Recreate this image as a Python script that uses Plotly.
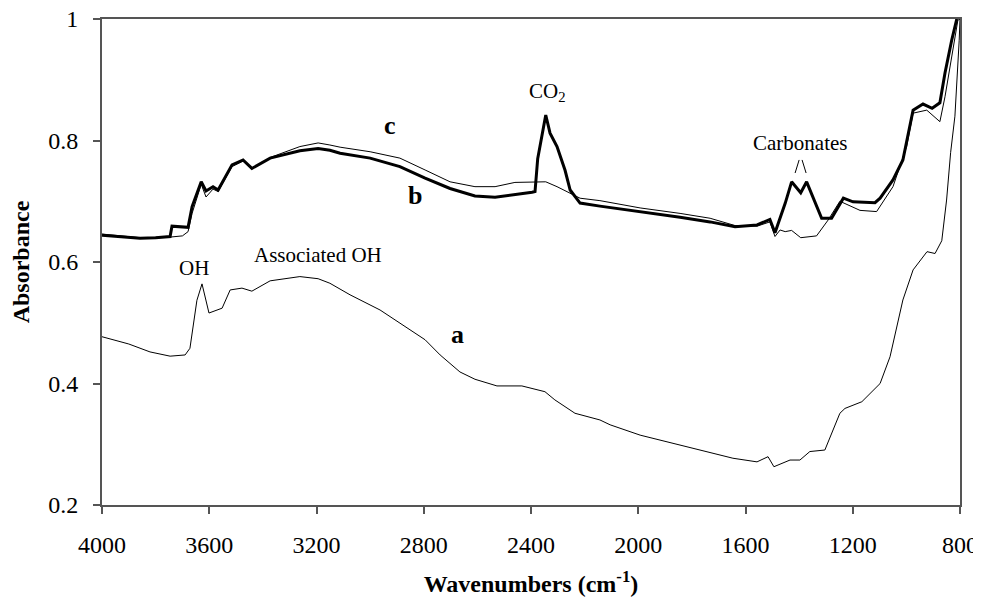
import plotly.graph_objects as go

# ---- data ----
wn_a = [4000, 3900, 3821, 3746, 3690, 3672, 3646, 3627, 3601, 3552, 3522, 3478, 3441, 3373,
        3262, 3194, 3150, 3075, 2963, 2889, 2795, 2739, 2665, 2609, 2527, 2434, 2348, 2311,
        2236, 2143, 2105, 1993, 1919, 1770, 1647, 1557, 1516, 1494, 1434, 1397, 1360, 1304,
        1248, 1229, 1166, 1098, 1061, 1013, 975, 923, 893, 868, 850, 835, 819, 803, 800]
abs_a = [0.477, 0.465, 0.452, 0.445, 0.447, 0.458, 0.537, 0.564, 0.516, 0.524, 0.554, 0.557, 0.552, 0.569,
         0.576, 0.5725, 0.565, 0.546, 0.521, 0.499, 0.472, 0.447, 0.419, 0.407, 0.396, 0.396, 0.3865, 0.373,
         0.351, 0.340, 0.332, 0.315, 0.307, 0.2905, 0.277, 0.271, 0.2795, 0.263, 0.274, 0.274, 0.288, 0.2905,
         0.351, 0.359, 0.370, 0.400, 0.444, 0.5375, 0.587, 0.617, 0.614, 0.635, 0.702, 0.78, 0.84, 0.965, 1.0]

wn_b = [4000, 3900, 3858, 3800, 3746, 3739, 3679, 3664, 3630, 3612, 3586, 3567, 3515, 3474, 3441,
        3373, 3262, 3194, 3150, 3112, 3000, 2889, 2795, 2702, 2609, 2534, 2460, 2396, 2385, 2375,
        2345, 2329, 2303, 2273, 2254, 2217, 2143, 1993, 1844, 1732, 1639, 1557, 1509, 1490, 1452,
        1428, 1394, 1372, 1316, 1279, 1235, 1199, 1117, 1098, 1050, 1013, 994, 975, 938, 904, 875,
        856, 831, 812]
abs_b = [0.644, 0.641, 0.639, 0.640, 0.642, 0.659, 0.657, 0.691, 0.732, 0.717, 0.724, 0.7185, 0.760, 0.768, 0.754,
         0.771, 0.783, 0.787, 0.784, 0.779, 0.771, 0.757, 0.738, 0.721, 0.7087, 0.7065, 0.7103, 0.7148, 0.716, 0.770,
         0.842, 0.812, 0.790, 0.751, 0.7185, 0.697, 0.692, 0.683, 0.6736, 0.666, 0.658, 0.661, 0.670, 0.648, 0.6966,
         0.732, 0.714, 0.732, 0.672, 0.672, 0.705, 0.699, 0.6976, 0.705, 0.735, 0.768, 0.812, 0.850, 0.860, 0.853, 0.862,
         0.911, 0.965, 1.0]

wn_c = [4000, 3858, 3746, 3700, 3679, 3664, 3630, 3612, 3586, 3567, 3515, 3474, 3441, 3373, 3262,
        3194, 3150, 3112, 3000, 2889, 2795, 2702, 2609, 2534, 2460, 2396, 2345, 2303, 2254, 2217,
        2143, 1993, 1844, 1732, 1639, 1557, 1509, 1490, 1471, 1452, 1428, 1394, 1335, 1292, 1248,
        1173, 1111, 1050, 999, 975, 924, 875, 856, 826, 808, 800]
abs_c = [0.646, 0.640, 0.641, 0.643, 0.650, 0.680, 0.728, 0.707, 0.720, 0.716, 0.757, 0.766, 0.753, 0.772, 0.790,
         0.796, 0.7926, 0.789, 0.7815, 0.771, 0.7515, 0.732, 0.724, 0.724, 0.731, 0.732, 0.732, 0.724, 0.713, 0.705,
         0.701, 0.689, 0.680, 0.672, 0.660, 0.659, 0.666, 0.642, 0.6527, 0.650, 0.652, 0.640, 0.643, 0.669, 0.700,
         0.685, 0.683, 0.724, 0.790, 0.845, 0.850, 0.831, 0.872, 0.949, 0.998, 1.0]

x_ticks = [4000, 3600, 3200, 2800, 2400, 2000, 1600, 1200, 800]
x_tick_labels = ["4000", "3600", "3200", "2800", "2400", "2000", "1600", "1200", "800"]
y_ticks = [0.2, 0.4, 0.6, 0.8, 1.0]
y_tick_labels = ["0.2", "0.4", "0.6", "0.8", "1"]

FONT = "Liberation Serif"

fig = go.Figure()
fig.add_trace(go.Scatter(x=wn_a, y=abs_a, mode="lines", line=dict(color="black", width=1), name="a"))
fig.add_trace(go.Scatter(x=wn_c, y=abs_c, mode="lines", line=dict(color="black", width=1), name="c"))
fig.add_trace(go.Scatter(x=wn_b, y=abs_b, mode="lines", line=dict(color="black", width=3), name="b"))

ann_font = dict(family=FONT, size=21, color="black")
lab_font = dict(family=FONT, size=26, color="black")
annots = [
    dict(x=2926, y=0.8255, text="<b>c</b>", font=lab_font),
    dict(x=2833, y=0.710, text="<b>b</b>", font=lab_font),
    dict(x=2676, y=0.480, text="<b>a</b>", font=lab_font),
    dict(x=2340, y=0.880, text="CO<sub>2</sub>", font=ann_font),
    dict(x=1397, y=0.796, text="Carbonates", font=ann_font),
    dict(x=3194, y=0.6115, text="Associated OH", font=ann_font),
    dict(x=3657, y=0.590, text="OH", font=ann_font),
]
for a in annots:
    a.update(xref="x", yref="y", showarrow=False, xanchor="center", yanchor="middle")
fig.update_layout(annotations=annots)

# small "/\" pointer under Carbonates
fig.add_shape(type="line", xref="x", yref="y", x0=1415, y0=0.7465, x1=1400, y1=0.768,
              line=dict(color="black", width=1))
fig.add_shape(type="line", xref="x", yref="y", x0=1389, y0=0.768, x1=1374, y1=0.7465,
              line=dict(color="black", width=1))

axis_common = dict(showline=True, linecolor="#555555", linewidth=2, mirror=True,
                   ticks="outside", tickcolor="#555555", tickwidth=1.5, ticklen=7,
                   showgrid=False, zeroline=False, automargin=False,
                   ticklabeloverflow="allow",
                   tickfont=dict(family=FONT, size=24, color="black"))

fig.update_xaxes(range=[4000, 800], tickvals=x_ticks, ticktext=x_tick_labels,
                 title=dict(text="<b>Wavenumbers (cm<sup>-1</sup>)</b>",
                            font=dict(family=FONT, size=24, color="black"), standoff=18),
                 ticklabelstandoff=10, **axis_common)
fig.update_yaxes(range=[0.2, 1.0], tickvals=y_ticks, ticktext=y_tick_labels,
                 title=dict(text="<b>Absorbance</b>",
                            font=dict(family=FONT, size=24, color="black"), standoff=15),
                 ticklabelstandoff=10, **axis_common)

# page body has an 8px margin, so the figure is sized/offset to land the plot
# area where the reference has it (and the page does not overflow vertically)
fig.update_layout(width=973, height=599, margin=dict(l=94, r=21, t=11, b=102),
                  plot_bgcolor="white", paper_bgcolor="white", showlegend=False)

fig.write_html("out.html")
